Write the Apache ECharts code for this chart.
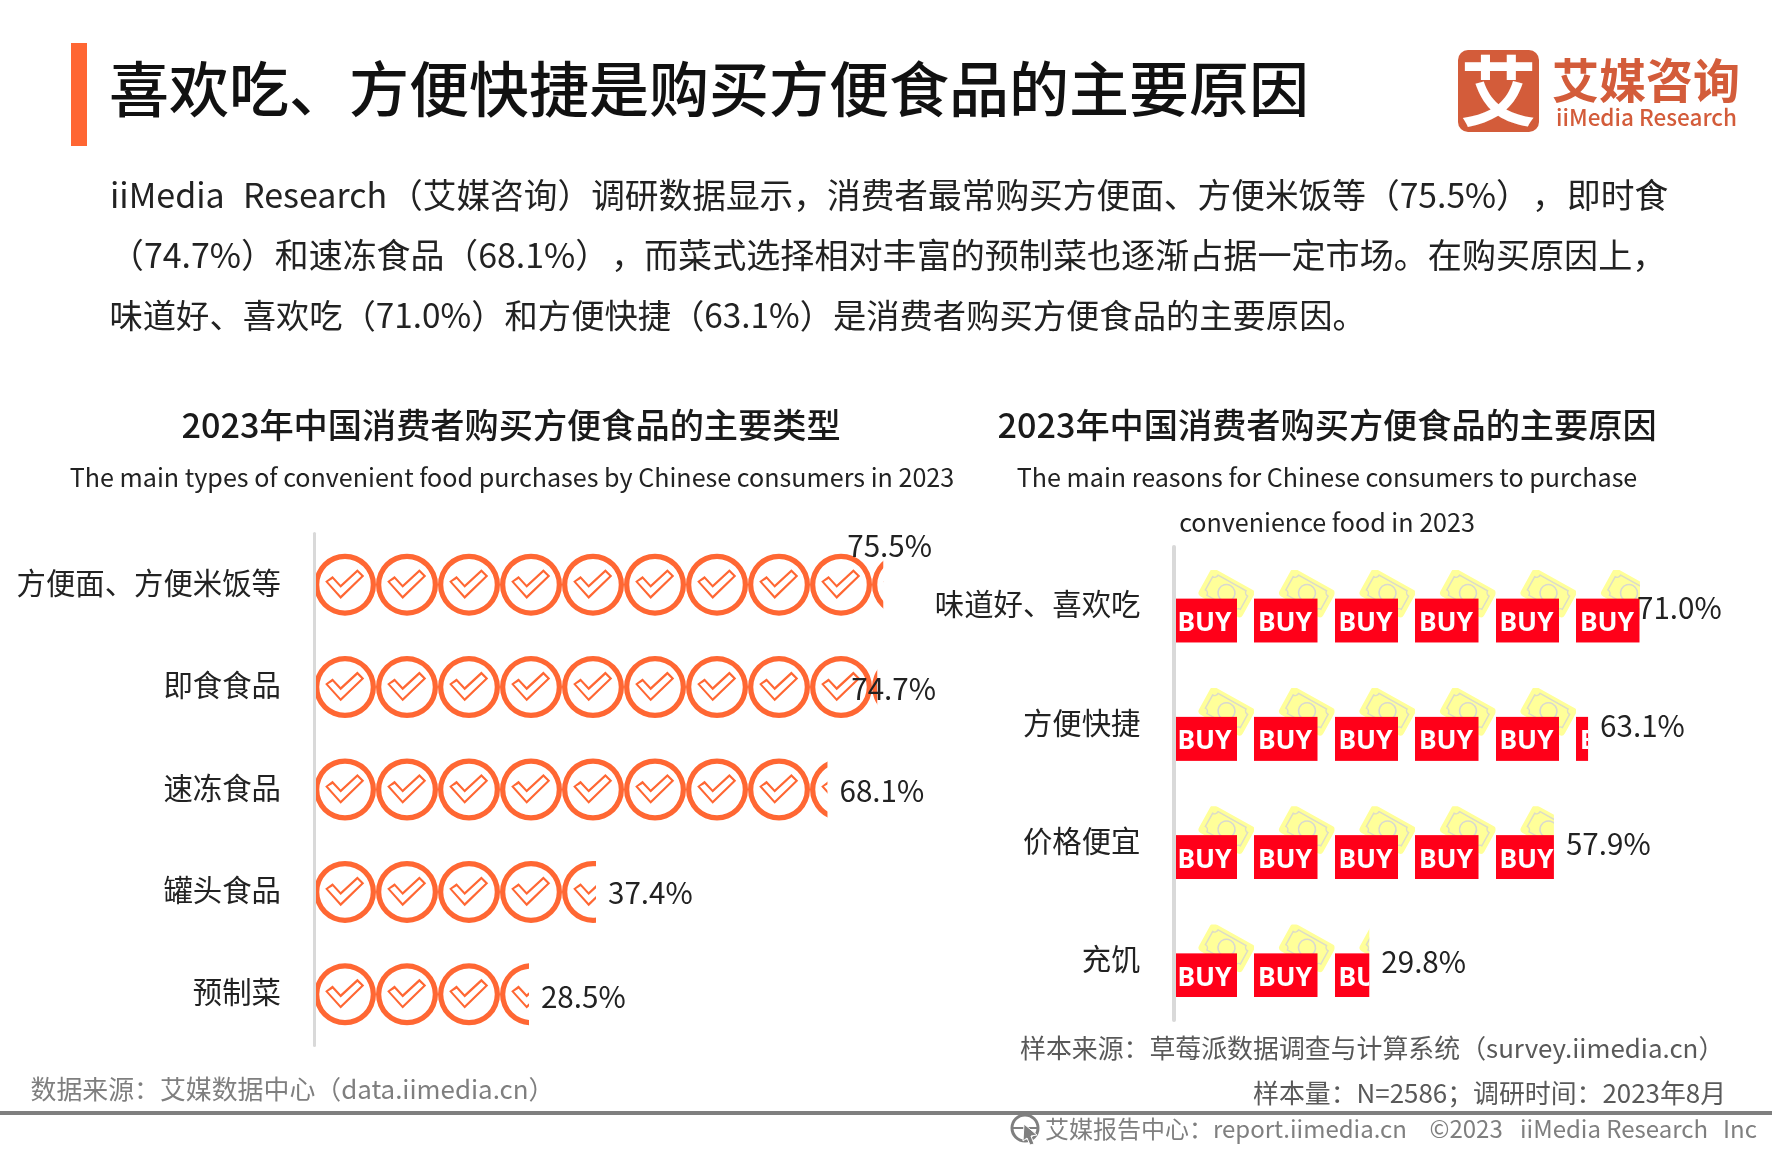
<!DOCTYPE html>
<html lang="zh">
<head>
    <meta charset="UTF-8">
    <title>方便食品</title>
    <script src="https://cdn.jsdelivr.net/npm/echarts@6/dist/echarts.min.js"></script>
    <style>
        html, body { margin: 0; padding: 0; background: #fff; }
        #chart { width: 1772px; height: 1152px; }
    </style>
</head>
<body>
<div id="chart"></div>
<script>
    var typeNames = ['方便面、方便米饭等', '即食食品', '速冻食品', '罐头食品', '预制菜'];
    var typeValues = [75.5, 74.7, 68.1, 37.4, 28.5];
    var reasonNames = ['味道好、喜欢吃', '方便快捷', '价格便宜', '充饥'];
    var reasonValues = [71.0, 63.1, 57.9, 29.8];

    var FONT = '"Noto Sans CJK SC", "Noto Sans", sans-serif';
    var ORANGE = '#ff6733';
    var LOGO = '#d35c3a';

    // 圆环 + 空心对勾
    var checkIcon = 'path://M50 0A50 50 0 1 1 50 100A50 50 0 1 1 50 0Z' +
        'M50 8.5A41.5 41.5 0 1 0 50 91.5A41.5 41.5 0 1 0 50 8.5Z' +
        'M18 45L30 36L43 50L70 25L81 36L43 73Z' +
        'M22.5 45.3L43 68L76.2 36L70 30L43 55L30 41Z';

    var buySvg = '<svg xmlns="http://www.w3.org/2000/svg" width="322" height="292" viewBox="0 0 80.5 73">' +
        '<g transform="translate(53 23.4) rotate(29)">' +
        '<rect x="-25" y="-15.5" width="50" height="31" rx="4" fill="#ffff99"/>' +
        '<path d="M-16 -11.5H16A4 4 0 0 0 20 -7.5V7.5A4 4 0 0 0 16 11.5H-16A4 4 0 0 0 -20 7.5V-7.5A4 4 0 0 0 -16 -11.5Z" fill="none" stroke="#dcdcc8" stroke-width="1.5"/>' +
        '<circle r="8.5" fill="none" stroke="#d8d8d0" stroke-width="1.6"/></g>' +
        '<rect x="-0.5" y="29" width="64" height="44" fill="#ff0019"/>' +
        '<text x="31" y="61.5" text-anchor="middle" font-family="Noto Sans, Roboto, sans-serif" font-weight="700" font-size="26.5" fill="#fff">BUY</text>' +
        '</svg>';
    var buyIcon = 'image://data:image/svg+xml;charset=utf-8,' + encodeURIComponent(buySvg);

    function headingText(text, x, y, size, weight, color) {
        return {
            text: text,
            left: x,
            top: y,
            padding: 0,
            textAlign: 'center',
            textVerticalAlign: 'middle',
            textStyle: {fontFamily: FONT, fontSize: size, fontWeight: weight, color: color}
        };
    }

    function plainText(text, x, y, size, color, weight, align) {
        return {
            type: 'text',
            x: x,
            y: y,
            style: {
                text: text,
                fill: color,
                font: (weight || 'normal') + ' ' + size + 'px ' + FONT,
                textAlign: align || 'left',
                textVerticalAlign: 'middle'
            }
        };
    }

    // 透明柱只用来把百分比标在数值末端
    function valueLabels(gridIdx, values, nudges) {
        return {
            type: 'bar',
            xAxisIndex: gridIdx,
            yAxisIndex: gridIdx,
            barWidth: 2,
            silent: true,
            itemStyle: {color: 'rgba(0,0,0,0)'},
            label: {
                show: true,
                position: 'right',
                distance: 12,
                formatter: function (p) {
                    return p.value.toFixed(1) + '%';
                },
                fontFamily: FONT,
                fontSize: 29.6,
                color: '#222'
            },
            data: values.map(function (v, i) {
                return {value: v, label: {offset: nudges[i]}};
            })
        };
    }

    // 类目文字比图标中心略高一点
    var categoryLabel = {
        margin: 33,
        formatter: '{a|{value}}',
        rich: {a: {padding: [0, 0, 4, 0], fontFamily: FONT, fontSize: 29.4, color: '#222'}}
    };

    var option = {
        animation: false,
        backgroundColor: '#fff',
        title: [
            headingText('2023年中国消费者购买方便食品的主要类型', 511, 425, 34.2, 500, '#1a1a1a'),
            headingText('The main types of convenient food purchases by Chinese consumers in 2023', 512, 477, 25.1, 400, '#222'),
            headingText('2023年中国消费者购买方便食品的主要原因', 1327, 425, 34.2, 500, '#1a1a1a'),
            headingText('The main reasons for Chinese consumers to purchase', 1327, 477, 25.1, 400, '#222'),
            headingText('convenience food in 2023', 1327, 522, 25.1, 400, '#222')
        ],
        grid: [
            {left: 314, top: 533.5, width: 678.6, height: 512},
            {left: 1173.5, top: 547, width: 591.3, height: 473}
        ],
        xAxis: [
            {gridIndex: 0, type: 'value', min: 0, max: 90, show: false},
            {gridIndex: 1, type: 'value', min: 0, max: 90, show: false}
        ],
        yAxis: [
            {
                gridIndex: 0, type: 'category', inverse: true, data: typeNames, z: 3,
                axisLine: {lineStyle: {color: '#d9d9d9', width: 3}},
                axisTick: {show: false},
                axisLabel: categoryLabel
            },
            {
                gridIndex: 1, type: 'category', inverse: true, data: reasonNames, z: 3,
                axisLine: {lineStyle: {color: '#d9d9d9', width: 4}},
                axisTick: {show: false},
                axisLabel: categoryLabel
            }
        ],
        series: [
            {
                type: 'pictorialBar',
                xAxisIndex: 0,
                yAxisIndex: 0,
                symbol: checkIcon,
                symbolSize: [62, 62],
                symbolRepeat: 10,
                symbolBoundingData: 82.23,
                symbolClip: true,
                itemStyle: {color: ORANGE},
                data: typeValues
            },
            {
                type: 'pictorialBar',
                xAxisIndex: 1,
                yAxisIndex: 1,
                symbol: buyIcon,
                symbolSize: [80.5, 73],
                symbolRepeat: 7,
                symbolBoundingData: 85.77,
                symbolClip: true,
                data: reasonValues
            },
            valueLabels(0, typeValues, [[-48, -39], [-38, 2], [0, 1], [0, 1], [0, 2]]),
            valueLabels(1, reasonValues, [[-15, 2], [0, 1], [0, 1], [0, 1]])
        ],
        graphic: [
            {type: 'rect', shape: {x: 71, y: 43, width: 16, height: 103}, style: {fill: '#ff6633'}},
            plainText('喜欢吃、方便快捷是购买方便食品的主要原因', 109, 89, 60, '#111', 500),
            // 原图是两端对齐，这里按段摆放
            plainText('iiMedia', 110, 195.5, 34, '#222'),
            plainText('Research', 243, 195.5, 34, '#222'),
            plainText('（艾媒咨询）调研数据显示，消费者最常购买方便面、方便米饭等（75.5%）', 389, 195.5, 33.7, '#222'),
            plainText('，', 1532, 195.5, 33.7, '#222'),
            plainText('即时食', 1567, 195.5, 33.7, '#222'),
            plainText('（74.7%）和速冻食品（68.1%）', 110, 255.5, 33.9, '#222'),
            plainText('，', 611, 255.5, 34.1, '#222'),
            plainText('而菜式选择相对丰富的预制菜也逐渐占据一定市场。在购买原因上，', 644, 255.5, 34.1, '#222'),
            plainText('味道好、喜欢吃（71.0%）和方便快捷（63.1%）是消费者购买方便食品的主要原因。', 109.5, 315.5, 33.3, '#222'),
            // logo
            {type: 'rect', shape: {x: 1458, y: 50, width: 81, height: 82, r: 10}, style: {fill: LOGO}},
            plainText('艾', 1498.5, 91, 76, '#fff', 'bold', 'center'),
            plainText('艾媒咨询', 1552, 80, 47, LOGO, 'bold'),
            plainText('iiMedia Research', 1556, 117, 22.5, LOGO, 500),
            // 底部
            plainText('样本来源：草莓派数据调查与计算系统（survey.iimedia.cn）', 1020, 1048, 25.9, '#595959'),
            plainText('数据来源：艾媒数据中心（data.iimedia.cn）', 30.5, 1089, 25.9, '#7f7f7f'),
            plainText('样本量：N=2586；调研时间：2023年8月', 1253, 1093, 25.9, '#595959'),
            {type: 'rect', shape: {x: 0, y: 1111, width: 1772, height: 4}, style: {fill: '#7f7f7f'}},
            {type: 'circle', shape: {cx: 1025, cy: 1128, r: 13}, style: {fill: 'none', stroke: '#7f7f7f', lineWidth: 3}},
            {type: 'line', shape: {x1: 1013, y1: 1128, x2: 1037, y2: 1128}, style: {stroke: '#7f7f7f', lineWidth: 2}},
            {type: 'polygon', shape: {points: [[1024, 1124], [1037, 1135], [1031, 1136], [1034, 1144], [1030, 1145], [1027, 1138], [1023, 1141]]}, style: {fill: '#7f7f7f', stroke: '#fff', lineWidth: 1}},
            plainText('艾媒报告中心：report.iimedia.cn', 1045, 1129, 24, '#7f7f7f'),
            plainText('©2023', 1429.5, 1129, 24, '#7f7f7f'),
            plainText('iiMedia Research', 1520, 1129, 24, '#7f7f7f'),
            plainText('Inc', 1723, 1129, 24, '#7f7f7f')
        ]
    };

    var myChart = echarts.init(document.getElementById('chart'));
    myChart.setOption(option);
</script>
</body>
</html>
